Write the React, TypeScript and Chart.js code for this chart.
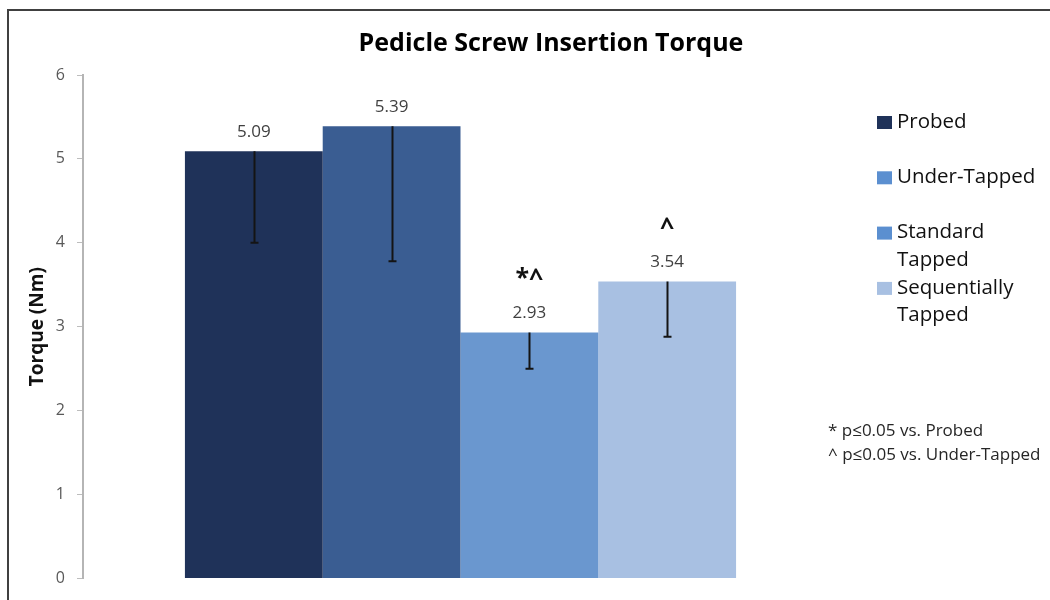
import { useEffect, useRef } from "react";
import { Chart, registerables } from "chart.js";

Chart.register(...registerables);

const categories = ["Probed", "Under-Tapped", "Standard Tapped", "Sequentially Tapped"];
const legendLines = [["Probed"], ["Under-Tapped"], ["Standard", "Tapped"], ["Sequentially", "Tapped"]];
const torqueMeans = [5.09, 5.39, 2.93, 3.54];
const torqueLowerErrors = [1.09, 1.61, 0.43, 0.66];
const significanceMarks = ["", "", "*^", "^"];
const barColors = ["#1f3259", "#3a5d92", "#6a97cf", "#a8c0e2"];
const legendColors = ["#1f3259", "#5b8fd0", "#5b8fd0", "#a8c0e2"];
const footnotes = ["* p\u22640.05 vs. Probed", "^ p\u22640.05 vs. Under-Tapped"];
const chartTitle = "Pedicle Screw Insertion Torque";
const yAxisTitle = "Torque (Nm)";
const yMin = 0;
const yMax = 6;
const yStep = 1;

const FONT = "'Open Sans', Lato, sans-serif";

const overlayPlugin = {
  id: "overlay",
  afterDatasetsDraw(chart: any) {
    const ctx = chart.ctx;
    const y = chart.scales.y;
    const area = chart.chartArea;
    ctx.save();

    // title
    ctx.fillStyle = "#000000";
    ctx.font = `bold 25px ${FONT}`;
    ctx.textAlign = "center";
    ctx.textBaseline = "middle";
    ctx.fillText(chartTitle, chart.width / 2, 44);

    chart.data.datasets.forEach((_ds: any, i: number) => {
      const bar = chart.getDatasetMeta(i).data[0];
      const x = Math.round(bar.x) + 0.5;
      const top = y.getPixelForValue(torqueMeans[i]);
      const low = y.getPixelForValue(torqueMeans[i] - torqueLowerErrors[i]);
      ctx.strokeStyle = "#141414";
      ctx.lineWidth = 2;
      ctx.beginPath();
      ctx.moveTo(x, top);
      ctx.lineTo(x, low);
      ctx.moveTo(x - 4, low);
      ctx.lineTo(x + 4, low);
      ctx.stroke();

      ctx.fillStyle = "#404040";
      ctx.font = `17px ${FONT}`;
      ctx.textAlign = "center";
      ctx.textBaseline = "middle";
      ctx.fillText(torqueMeans[i].toFixed(2), bar.x, top - 19);

      if (significanceMarks[i]) {
        ctx.fillStyle = "#111111";
        ctx.font = `bold 25px ${FONT}`;
        ctx.fillText(significanceMarks[i], bar.x, top - 54);
      }
    });

    // legend
    const lx = area.right + 39;
    ctx.textAlign = "left";
    ctx.textBaseline = "middle";
    ctx.font = `20.5px ${FONT}`;
    legendLines.forEach((lines, i) => {
      const cy = 122 + 55.3 * i;
      ctx.fillStyle = legendColors[i];
      ctx.fillRect(lx, cy - 6, 15, 13);
      ctx.fillStyle = "#111111";
      lines.forEach((t, j) => ctx.fillText(t, lx + 20, cy + j * 27.5));
    });

    // footnotes
    ctx.font = `17px ${FONT}`;
    ctx.fillStyle = "#262626";
    footnotes.forEach((t, j) => ctx.fillText(t, area.right - 10, 431 + j * 24));
    ctx.restore();
  },
};

export default function App() {
  const ref = useRef<HTMLCanvasElement | null>(null);
  useEffect(() => {
    if (!ref.current) return;
    const chart = new Chart(ref.current, {
      type: "bar",
      data: {
        labels: [""],
        datasets: categories.map((c, i) => ({
          label: c,
          data: [torqueMeans[i]],
          backgroundColor: barColors[i],
          borderWidth: 0,
          categoryPercentage: 0.73,
          barPercentage: 1.0,
        })),
      },
      options: {
        responsive: false,
        animation: false,
        layout: { padding: { left: 0, right: 264, top: 75, bottom: 11 } },
        plugins: {
          legend: { display: false },
          tooltip: { enabled: false },
          title: { display: false },
        },
        scales: {
          x: { display: false, offset: true },
          y: {
            min: yMin,
            max: yMax,
            ticks: {
              stepSize: yStep,
              color: "#595959",
              padding: 12,
              font: { family: FONT, size: 16 },
            },
            grid: {
              drawOnChartArea: false,
              drawTicks: true,
              tickLength: 6,
              color: "#bdbdbd",
              lineWidth: 1,
            },
            border: { display: true, color: "#b5b5b5", width: 2 },
            title: {
              display: true,
              text: yAxisTitle,
              color: "#111111",
              font: { family: FONT, size: 19, weight: "bold", lineHeight: 1.2 },
              padding: { top: 26, bottom: 0 },
            },
            afterFit: (s: any) => {
              s.width = 83;
            },
          },
        },
      },
      plugins: [overlayPlugin],
    });
    return () => chart.destroy();
  }, []);

  return (
    <div style={{ position: "fixed", left: 0, top: 0, width: 1050, height: 600, overflow: "hidden", background: "#ffffff" }}>
      <div
        style={{
          position: "absolute",
          left: 7,
          top: 9,
          width: 1200,
          height: 700,
          borderLeft: "2px solid #404040",
          borderTop: "2px solid #404040",
        }}
      />
      <canvas ref={ref} width={1102} height={600} style={{ position: "absolute", left: 0, top: 0 }} />
    </div>
  );
}
